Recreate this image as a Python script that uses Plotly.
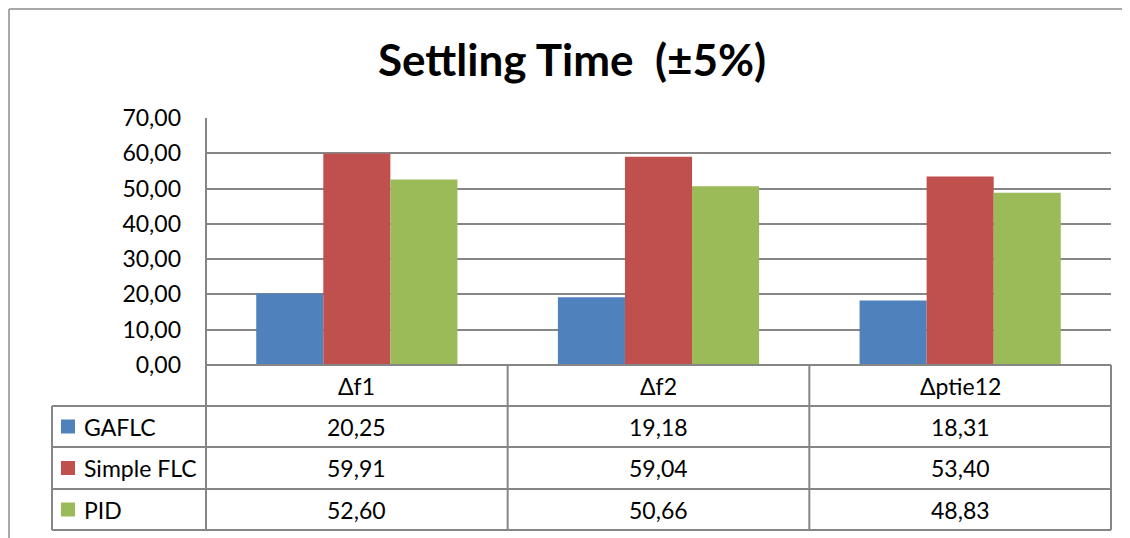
import plotly.graph_objects as go

categories = ["Δf1", "Δf2", "Δptie12"]
series_names = ["GAFLC", "Simple FLC", "PID"]
gaflc = [20.25, 19.18, 18.31]
simple_flc = [59.91, 59.04, 53.40]
pid = [52.60, 50.66, 48.83]
series_values = [gaflc, simple_flc, pid]
colors = ["#4F81BD", "#C0504D", "#9BBB59"]
y_ticks = [0, 10, 20, 30, 40, 50, 60, 70]

W, H = 1130, 538
OFF = 8  # page body margin offset
FONT = "Lato"
GRID = "#868686"
TXT = 23

def px_x(v):
    return (v - OFF) / W

def px_y(v):
    return 1 - (v - OFF) / H

# layout geometry (screen pixels)
plot_l, plot_r = 206, 1111
plot_t, plot_b = 118, 365
row_edges = [365, 406, 447, 489, 530]
table_l = 52

fig = go.Figure()
for name, vals, col in zip(series_names, series_values, colors):
    fig.add_trace(go.Bar(
        x=categories, y=vals, name=name, marker=dict(color=col, line=dict(width=0)),
        showlegend=False,
    ))

shapes = []
annotations = []

# outer chart border (top and left)
shapes.append(dict(type="line", xref="paper", yref="paper", x0=px_x(9), x1=1.0, y0=px_y(9), y1=px_y(9),
                   line=dict(color="#8C8C8C", width=1.5)))
shapes.append(dict(type="line", xref="paper", yref="paper", x0=px_x(9), x1=px_x(9), y0=px_y(9), y1=0,
                   line=dict(color="#8C8C8C", width=1.5)))

col_w = (plot_r - plot_l) / len(categories)
col_edges = [plot_l + i * col_w for i in range(len(categories) + 1)]

shapes.append(dict(type="line", xref="paper", yref="paper", x0=px_x(plot_l), x1=px_x(plot_r),
                   y0=px_y(row_edges[0]), y1=px_y(row_edges[0]), line=dict(color=GRID, width=2)))
for r in row_edges[1:]:
    shapes.append(dict(type="line", xref="paper", yref="paper", x0=px_x(table_l), x1=px_x(plot_r),
                       y0=px_y(r), y1=px_y(r), line=dict(color=GRID, width=2)))
shapes.append(dict(type="line", xref="paper", yref="paper", x0=px_x(plot_l), x1=px_x(plot_l),
                   y0=px_y(plot_t), y1=px_y(row_edges[-1]), line=dict(color=GRID, width=2)))
for c in col_edges[1:]:
    shapes.append(dict(type="line", xref="paper", yref="paper", x0=px_x(c), x1=px_x(c),
                       y0=px_y(row_edges[0]), y1=px_y(row_edges[-1]), line=dict(color=GRID, width=2)))
shapes.append(dict(type="line", xref="paper", yref="paper", x0=px_x(table_l), x1=px_x(table_l),
                   y0=px_y(row_edges[1]), y1=px_y(row_edges[-1]), line=dict(color=GRID, width=2)))

def fmt(v):
    return f"{v:.2f}".replace(".", ",")

for i, cat in enumerate(categories):
    cx = (col_edges[i] + col_edges[i + 1]) / 2
    cy = (row_edges[0] + row_edges[1]) / 2
    annotations.append(dict(xref="paper", yref="paper", x=px_x(cx), y=px_y(cy), text=cat,
                            showarrow=False, font=dict(family=FONT, size=TXT, color="black"),
                            xanchor="center", yanchor="middle"))
for j, (name, vals, col) in enumerate(zip(series_names, series_values, colors)):
    top, bot = row_edges[j + 1], row_edges[j + 2]
    cy = (top + bot) / 2
    shapes.append(dict(type="rect", xref="paper", yref="paper", x0=px_x(61), x1=px_x(75),
                       y0=px_y(cy - 7), y1=px_y(cy + 7), fillcolor=col, line=dict(width=0)))
    annotations.append(dict(xref="paper", yref="paper", x=px_x(82), y=px_y(cy), text=name,
                            showarrow=False, font=dict(family=FONT, size=TXT, color="black"),
                            xanchor="left", yanchor="middle"))
    for i, v in enumerate(vals):
        cx = (col_edges[i] + col_edges[i + 1]) / 2
        annotations.append(dict(xref="paper", yref="paper", x=px_x(cx), y=px_y(cy), text=fmt(v),
                                showarrow=False, font=dict(family=FONT, size=TXT, color="black"),
                                xanchor="center", yanchor="middle"))

annotations.append(dict(xref="paper", yref="paper", x=px_x(572), y=px_y(59),
                        text="<b>Settling Time \u00a0(±5%)</b>", showarrow=False,
                        font=dict(family=FONT, size=44, color="black"),
                        xanchor="center", yanchor="middle"))

fig.update_layout(
    template="none",
    width=W, height=H,
    margin=dict(l=0, r=0, t=0, b=0, autoexpand=False),
    paper_bgcolor="white", plot_bgcolor="white",
    separators=",.",
    barmode="group", bargap=0.333, bargroupgap=0,
    xaxis=dict(domain=[px_x(plot_l), px_x(plot_r)], showticklabels=False, showgrid=False,
               zeroline=False, showline=False, ticks="", automargin=False),
    yaxis=dict(domain=[px_y(plot_b), px_y(plot_t)], range=[0, 70], tickvals=y_ticks,
               tickformat=".2f", showgrid=True, gridcolor=GRID, gridwidth=2, zeroline=False,
               showline=False, ticks="", ticklabelstandoff=24, automargin=False,
               tickfont=dict(family=FONT, size=TXT, color="black")),
    shapes=shapes, annotations=annotations,
    font=dict(family=FONT),
)

fig.write_html("out.html")
